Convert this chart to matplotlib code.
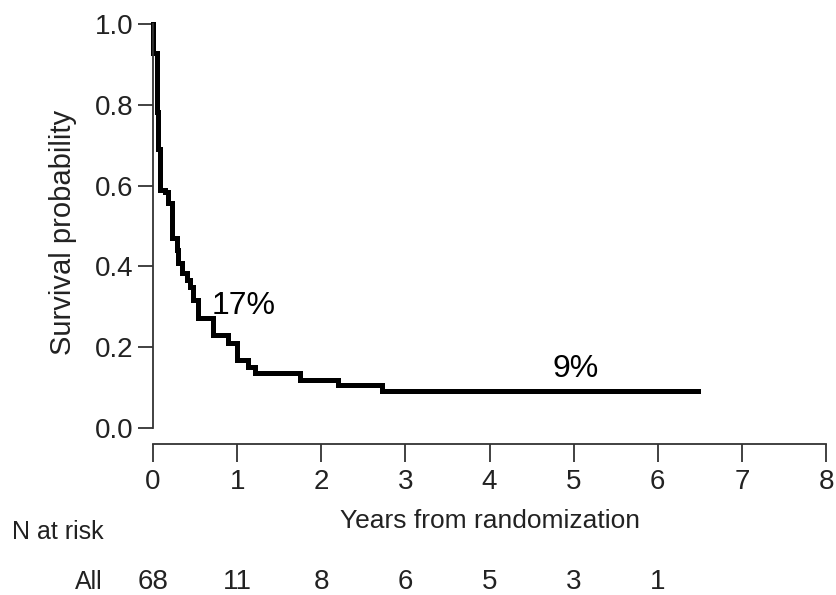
import numpy as np
import matplotlib
matplotlib.use("Agg")
import matplotlib.pyplot as plt
from matplotlib.transforms import blended_transform_factory

# Kaplan-Meier curve (years, survival)
km_time = [0.0, 0.004, 0.044, 0.063, 0.083, 0.14, 0.18, 0.225, 0.285, 0.30,
           0.345, 0.41, 0.44, 0.48, 0.53, 0.54, 0.71, 0.89, 0.998, 1.13,
           1.21, 1.75, 2.2, 2.72, 6.48]
km_surv = [1.0, 0.928, 0.782, 0.69, 0.589, 0.584, 0.557, 0.47, 0.441, 0.408,
           0.384, 0.366, 0.349, 0.317, 0.30, 0.272, 0.230, 0.210, 0.168, 0.151,
           0.136, 0.119, 0.106, 0.092, 0.092]

risk_times = [0, 1, 2, 3, 4, 5, 6]
risk_all = [68, 11, 8, 6, 5, 3, 1]

x_ticks = list(range(0, 9))
y_ticks = [0.0, 0.2, 0.4, 0.6, 0.8, 1.0]

reg = ['Liberation Sans', 'DejaVu Sans']
nar = ['Liberation Sans Narrow', 'Liberation Sans', 'DejaVu Sans']
axcol = '#333333'
txtcol = '#222222'

fig = plt.figure(figsize=(8.36, 5.95), dpi=100)
ax = fig.add_axes([153/836, 1-428/595, 673/836, 404/595])

ax.step(km_time, km_surv, where='post', color='black', lw=3.6, clip_on=False,
        solid_joinstyle='miter')

ax.set_xlim(0, 8)
ax.set_ylim(0, 1)
ax.spines['top'].set_visible(False)
ax.spines['right'].set_visible(False)
ax.spines['bottom'].set_position(('outward', 11.5))
for s in ['left', 'bottom']:
    ax.spines[s].set_color(axcol)
    ax.spines[s].set_linewidth(1.3)
ax.spines['left'].set_bounds(0, 1)
ax.spines['bottom'].set_bounds(0, 8)

ax.set_xticks(x_ticks)
ax.set_yticks(y_ticks)
ax.set_yticklabels([f'{v:.1f}' for v in y_ticks])
ax.tick_params(axis='x', length=13, width=1.3, color=axcol, pad=5, labelsize=20)
ax.tick_params(axis='y', length=11, width=1.3, color=axcol, pad=3, labelsize=20)
for lab in ax.get_xticklabels() + ax.get_yticklabels():
    lab.set_family(nar)
    lab.set_color(txtcol)

ax.set_xlabel('Years from randomization', family=reg, fontsize=19, color=txtcol)
ax.set_ylabel('Survival probability', family=reg, fontsize=21, color=txtcol)
ax.xaxis.set_label_coords(0.5, -0.2, transform=ax.transAxes)
ax.yaxis.set_label_coords(-76/673, 0.485)

# percentage annotations
ax.text(0.70, 0.283, '17%', family=reg, fontsize=23, ha='left', va='baseline')
ax.text(5.02, 0.126, '9%', family=reg, fontsize=23, ha='center', va='baseline')

# number at risk table
tr = blended_transform_factory(ax.transData, fig.transFigure)
fig.text(12/836, 1-532/595, 'N at risk', family=reg, fontsize=18, va='center', color=txtcol)
fig.text(103/836, 1-582/595, 'All', family=reg, fontsize=18, va='center', ha='right', color=txtcol)
for t, n in zip(risk_times, risk_all):
    ax.text(t, 1-582/595, str(n), transform=tr, family=nar, fontsize=20,
            ha='center', va='center', color=txtcol)

fig.savefig('out.png', dpi=100)
